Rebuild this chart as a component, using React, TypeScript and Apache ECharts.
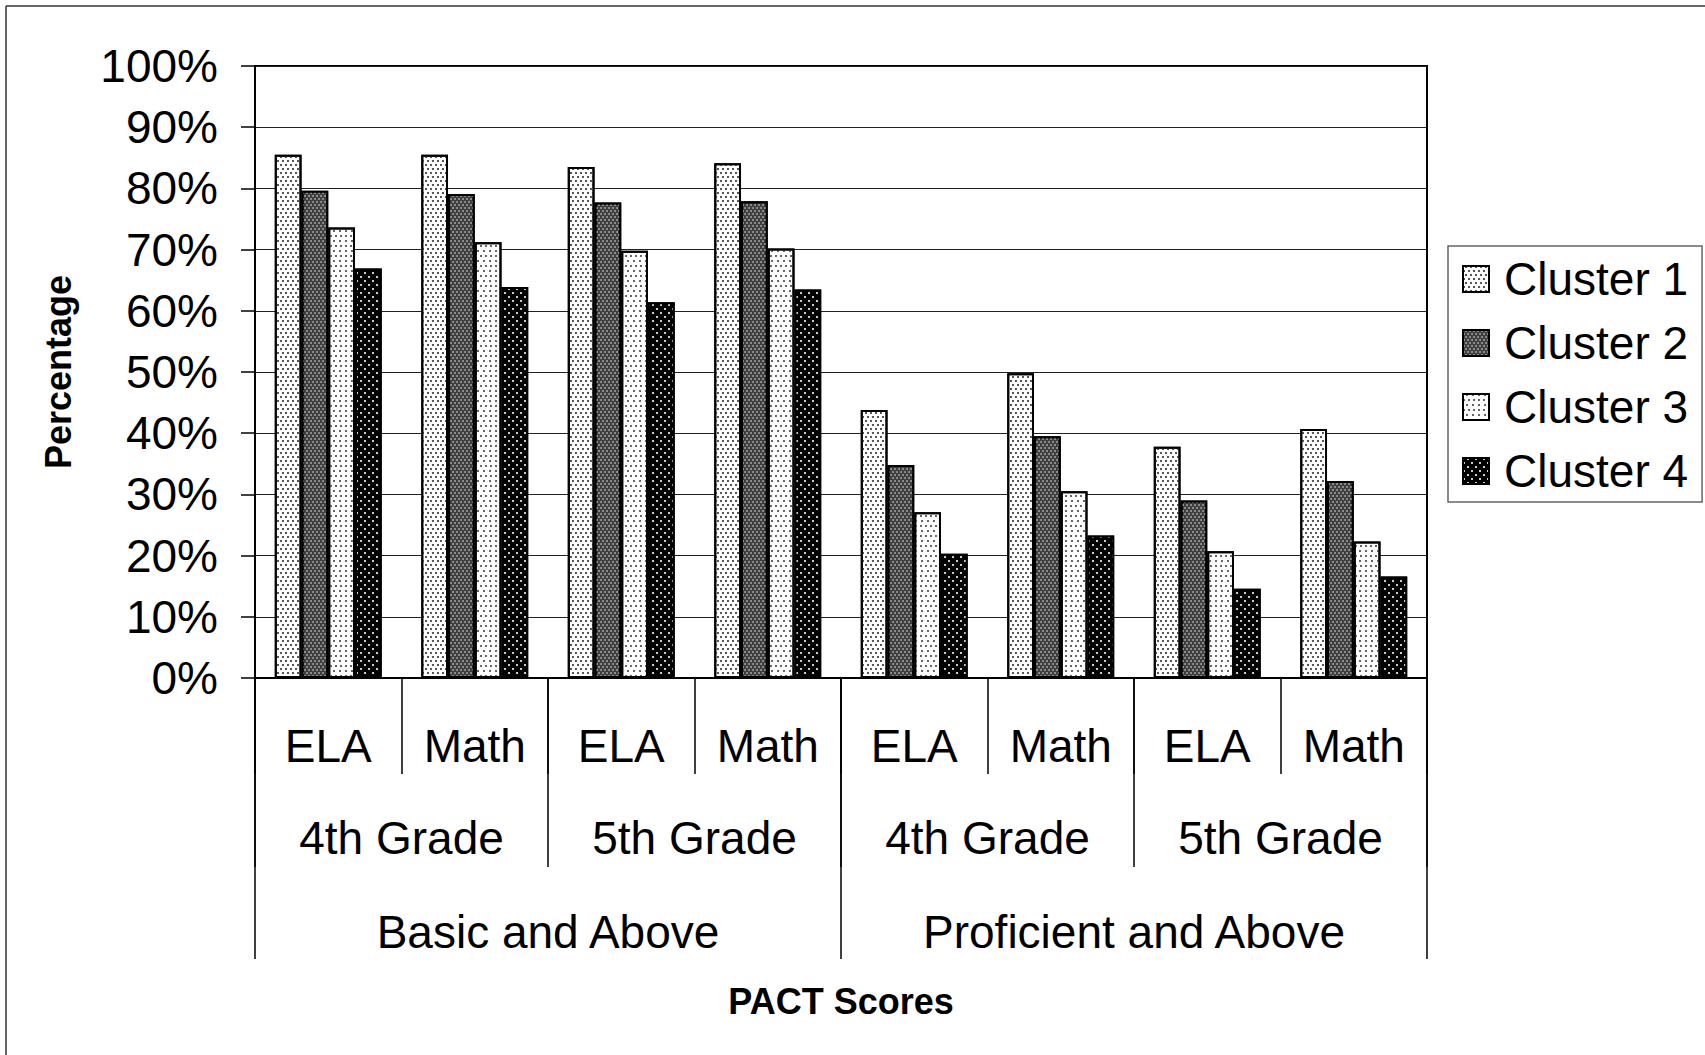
import React, { useEffect, useRef } from "react";
import * as echarts from "echarts";

const categories = ["ELA", "Math", "ELA", "Math", "ELA", "Math", "ELA", "Math"];
const grades = ["4th Grade", "5th Grade", "4th Grade", "5th Grade"];
const levels = ["Basic and Above", "Proficient and Above"];
const seriesNames = ["Cluster 1", "Cluster 2", "Cluster 3", "Cluster 4"];
const cluster1 = [85.5, 85.5, 83.5, 84.1, 43.8, 49.8, 37.8, 40.7];
const cluster2 = [79.6, 79.1, 77.7, 77.9, 34.8, 39.5, 29.0, 32.2];
const cluster3 = [73.6, 71.2, 69.8, 70.2, 27.1, 30.5, 20.7, 22.3];
const cluster4 = [66.9, 63.9, 61.4, 63.5, 20.3, 23.3, 14.6, 16.6];
const yTicks = [0, 10, 20, 30, 40, 50, 60, 70, 80, 90, 100];

const FONT = "'Liberation Sans', Arial, sans-serif";

const styles = [
  {
    color: "#ffffff",
    decal: {
      symbol: "rect",
      symbolSize: 1,
      color: "#555555",
      dashArrayX: [[1.5, 2.5], [0, 2, 1.5, 0.5]],
      dashArrayY: [1.5, 2],
    },
  },
  {
    color: "#3c3c3c",
    decal: {
      symbol: "circle",
      symbolSize: 1,
      color: "#9a9a9a",
      dashArrayX: [[2, 2], [0, 2, 2, 0]],
      dashArrayY: [2, 0.5],
    },
  },
  {
    color: "#ffffff",
    decal: {
      symbol: "rect",
      symbolSize: 1,
      color: "#666666",
      dashArrayX: [[1.5, 3], [0, 2.25, 1.5, 0.75]],
      dashArrayY: [1.5, 2.2],
    },
  },
  {
    color: "#000000",
    decal: {
      symbol: "rect",
      symbolSize: 1,
      color: "#cccccc",
      dashArrayX: [[1.5, 5.5], [0, 3.5, 1.5, 2]],
      dashArrayY: [1.5, 2],
    },
  },
];

export default function App() {
  const ref = useRef<HTMLDivElement>(null);
  useEffect(() => {
    if (!ref.current) return;
    const chart = echarts.init(ref.current, null, { renderer: "svg" });
    const data = [cluster1, cluster2, cluster3, cluster4];
    const gridLeft = 255;
    const gridTop = 66;
    const gridRight = 1705 - 1427;
    const gridBottom = 1055 - 678;
    chart.setOption({
      animation: false,
      backgroundColor: "#ffffff",
      textStyle: { fontFamily: FONT, color: "#000" },
      grid: {
        left: gridLeft,
        top: gridTop,
        right: gridRight,
        bottom: gridBottom,
        show: true,
        borderColor: "#000",
        borderWidth: 2,
        containLabel: false,
      },
      legend: {
        orient: "vertical",
        left: 1448,
        top: 246,
        itemWidth: 26,
        itemHeight: 26,
        itemGap: 18,
        icon: "rect",
        padding: [10, 14, 8, 14],
        borderColor: "#666",
        borderWidth: 1.5,
        backgroundColor: "#fff",
        textStyle: {
          fontFamily: FONT,
          fontSize: 46,
          lineHeight: 46,
          color: "#000",
          padding: [0, 0, 0, 10],
        },
        data: seriesNames,
      },
      xAxis: [
        {
          type: "category",
          data: categories,
          position: "bottom",
          axisLine: { show: true, lineStyle: { color: "#000", width: 2 } },
          axisTick: { show: true, length: 96, lineStyle: { color: "#000", width: 1.5 } },
          axisLabel: { interval: 0, margin: 45, fontSize: 46, fontFamily: FONT, color: "#000" },
          splitLine: { show: false },
        },
        {
          type: "category",
          data: grades,
          position: "bottom",
          axisLine: { show: false },
          axisTick: { show: true, length: 189, lineStyle: { color: "#000", width: 1.5 } },
          axisLabel: { interval: 0, margin: 137, fontSize: 46, fontFamily: FONT, color: "#000" },
          splitLine: { show: false },
        },
        {
          type: "category",
          data: levels,
          position: "bottom",
          axisLine: { show: false },
          axisTick: { show: true, length: 281, lineStyle: { color: "#000", width: 1.5 } },
          axisLabel: { interval: 0, margin: 231, fontSize: 46, fontFamily: FONT, color: "#000" },
          splitLine: { show: false },
          name: "PACT Scores",
          nameLocation: "middle",
          nameGap: 323,
          nameTextStyle: {
            fontFamily: FONT,
            fontSize: 36,
            fontWeight: "bold",
            color: "#000",
            verticalAlign: "middle",
          },
        },
      ],
      yAxis: {
        type: "value",
        min: yTicks[0],
        max: yTicks[yTicks.length - 1],
        interval: 10,
        axisLine: { show: true, lineStyle: { color: "#000", width: 2 } },
        axisTick: { show: true, length: 14, lineStyle: { color: "#000", width: 1.5 } },
        axisLabel: {
          margin: 37,
          fontSize: 46,
          fontFamily: FONT,
          color: "#000",
          formatter: "{value}%",
        },
        splitLine: { show: true, lineStyle: { color: "#222", width: 1 } },
        name: "Percentage",
        nameLocation: "middle",
        nameRotate: 90,
        nameGap: 197,
        nameTextStyle: {
          fontFamily: FONT,
          fontSize: 36,
          fontWeight: "bold",
          color: "#000",
          verticalAlign: "middle",
        },
      },
      series: seriesNames.map((name, i) => ({
        name,
        type: "bar",
        xAxisIndex: 0,
        data: data[i],
        barGap: "0%",
        barCategoryGap: "27%",
        itemStyle: {
          color: styles[i].color,
          borderColor: "#000",
          borderWidth: 2,
          decal: styles[i].decal,
        },
        emphasis: { disabled: true },
      })),
      graphic: [
        {
          type: "line",
          shape: { x1: 6, y1: 6, x2: 1705, y2: 6 },
          style: { stroke: "#333", lineWidth: 1.5 },
          silent: true,
        },
        {
          type: "line",
          shape: { x1: 6, y1: 6, x2: 6, y2: 1055 },
          style: { stroke: "#333", lineWidth: 1.5 },
          silent: true,
        },
      ],
    });
    return () => chart.dispose();
  }, []);
  return (
    <div
      ref={ref}
      style={{ position: "absolute", left: 0, top: 0, width: 1705, height: 1055 }}
    />
  );
}
